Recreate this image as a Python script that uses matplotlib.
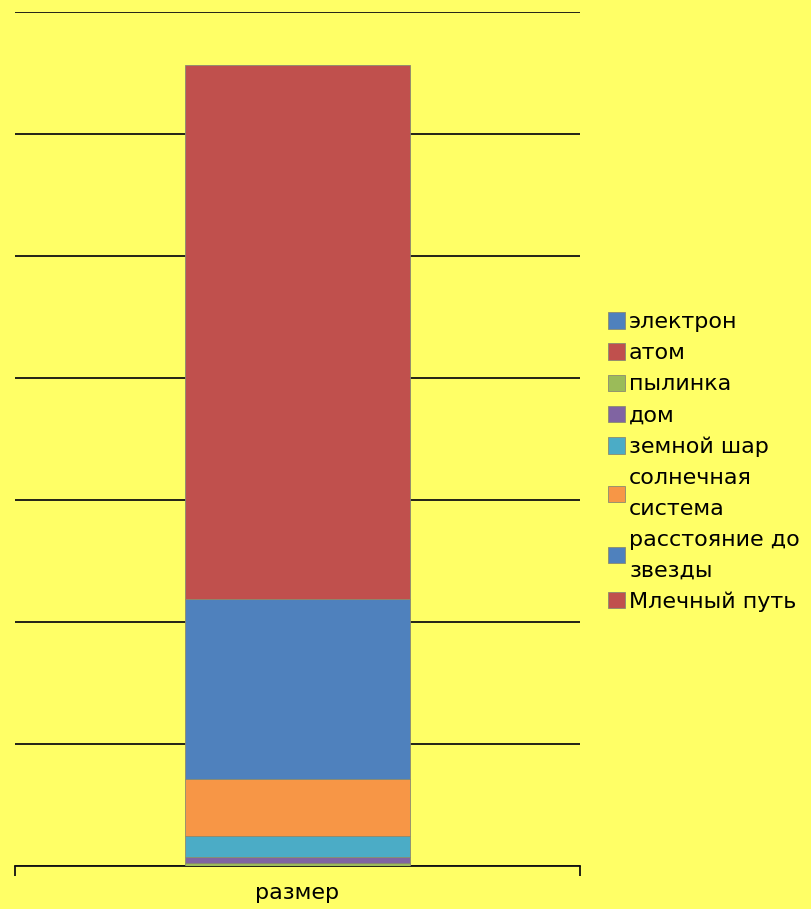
import numpy as np
import matplotlib.pyplot as plt

# данные (в делениях сетки)
category = ["размер"]
names = ["электрон", "атом", "пылинка", "дом", "земной шар",
         "солнечная\nсистема", "расстояние до\nзвезды", "Млечный путь"]
values = [0.0, 0.0, 0.025, 0.05, 0.17, 0.47, 1.47, 4.38]
colors = ["#4F81BD", "#C0504D", "#9BBB59", "#8064A2", "#4BACC6",
          "#F79646", "#4F81BD", "#C0504D"]

plt.rcParams['font.family'] = ['DejaVu Sans']
bg = "#FFFF66"

fig = plt.figure(figsize=(8.12, 9.09), dpi=100, facecolor=bg)
ax = fig.add_axes([15/812, 1-866/909, 565/812, 854/909])
ax.set_facecolor(bg)

x = np.arange(len(category))
bottom = np.zeros(len(category))
for n, v, c in zip(names, values, colors):
    ax.bar(x, [v], bottom=bottom, width=0.398, color=c, label=n,
           edgecolor="#8a8a70", linewidth=0.6, zorder=3)
    bottom += v

ax.set_xlim(-0.5, 0.5)
ax.set_ylim(0, 7)
ax.set_yticks(np.arange(0, 8))
ax.yaxis.grid(True, color="#111111", linewidth=1.3, zorder=0)
ax.tick_params(axis='y', left=False, labelleft=False)
for s in ['left', 'right', 'top']:
    ax.spines[s].set_visible(False)
ax.spines['bottom'].set_color("#111111")
ax.spines['bottom'].set_linewidth(1.3)

ax.set_xticks(x)
ax.set_xticklabels(category, fontsize=16)
ax.tick_params(axis='x', which='major', length=0, pad=12)
ax.set_xticks([-0.5, 0.5], minor=True)
ax.tick_params(axis='x', which='minor', length=7, width=1.3, color="#111111")

leg = fig.legend(loc='center left', bbox_to_anchor=(608/812, 1-462/909),
                 frameon=False, fontsize=16, borderpad=0, borderaxespad=0,
                 handlelength=0.75, handleheight=0.75, handletextpad=0.2,
                 labelspacing=0.5)
for t in leg.get_texts():
    t.set_linespacing(1.65)

fig.savefig("out.png", dpi=100, facecolor=bg)
